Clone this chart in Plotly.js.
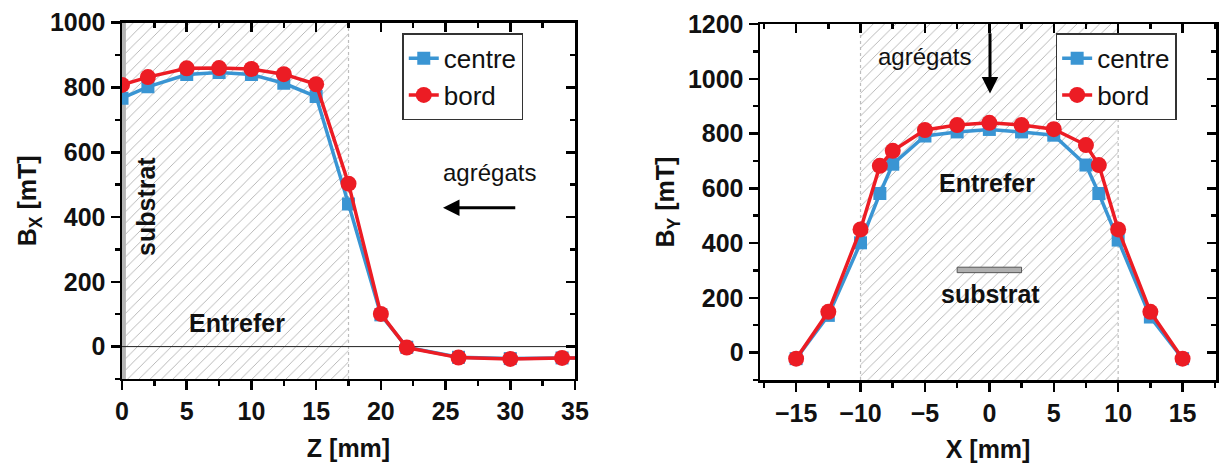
<!DOCTYPE html>
<html>
<head>
<meta charset="utf-8">
<script src="https://cdn.plot.ly/plotly-3.0.1.min.js"></script>
<style>html,body{margin:0;padding:0;background:#fff;}#chart{width:1219px;height:468px;}</style>
</head>
<body>
<div id="chart"></div>
<script>
// ---- data: left panel (Bx vs Z) ----
const zPos     = [0, 2, 5, 7.5, 10, 12.5, 15, 17.5, 20, 22, 26, 30, 34, 36];
const bxCentre = [767, 802, 840, 846, 840, 813, 772, 440, 98, -2, -33, -37, -35, -35];
const bxBord   = [808, 832, 859, 860, 857, 841, 810, 503, 101, -3, -34, -38, -35, -35];
// ---- data: right panel (By vs X) ----
const xPos     = [-15, -12.5, -10, -8.5, -7.5, -5, -2.5, 0, 2.5, 5, 7.5, 8.5, 10, 12.5, 15];
const byCentre = [-22, 136, 401, 581, 688, 791, 806, 815, 806, 794, 685, 581, 411, 130, -22];
const byBord   = [-22, 149, 450, 682, 737, 813, 831, 839, 831, 816, 758, 685, 450, 149, -22];
// regions
const gapZ = [0, 17.5];        // entrefer along Z
const substrZ = [0, 0.3];      // substrate strip along Z
const gapX = [-10, 10];        // entrefer along X
const substrX = [-2.5, 2.5];   // substrate along X
const substrXlevel = [292, 312];
const seriesNames = ['centre', 'bord'];

const BLUE = '#3a95d3', RED = '#ec1c24';
const FONT = 'Liberation Sans, Arial, sans-serif';
const rangeZ = [0, 35], rangeBx = [-100, 1000];
const rangeX = [-17.8, 17.6], rangeBy = [-100, 1200];

function box(xr, yr) {
  return {x: [xr[0], xr[1], xr[1], xr[0], xr[0]], y: [yr[0], yr[0], yr[1], yr[1], yr[0]]};
}
function hatch(xr, yr, xa, ya) {
  return Object.assign(box(xr, yr), {
    xaxis: xa, yaxis: ya, mode: 'lines', fill: 'toself', line: {width: 0},
    fillcolor: 'white',
    fillpattern: {shape: '/', fgcolor: '#a8a8a8', bgcolor: 'white', size: 8, solidity: 0.1},
    hoverinfo: 'skip', showlegend: false});
}
function solidBox(xr, yr, xa, ya, col) {
  return Object.assign(box(xr, yr), {
    xaxis: xa, yaxis: ya, mode: 'lines', fill: 'toself', line: {width: 0},
    fillcolor: col, hoverinfo: 'skip', showlegend: false});
}
function vline(xv, yr, xa, ya) {
  return {x: [xv, xv], y: yr, xaxis: xa, yaxis: ya, mode: 'lines',
    line: {color: '#bdbdbd', width: 1.2, dash: 'dot'}, hoverinfo: 'skip', showlegend: false};
}
function series(x, y, name, xa, ya, lg, isCentre) {
  return {x: x, y: y, name: name, xaxis: xa, yaxis: ya, legend: lg, mode: 'lines+markers',
    line: {color: isCentre ? BLUE : RED, width: 3.5},
    marker: {symbol: isCentre ? 'square' : 'circle', size: isCentre ? 13 : 16, color: isCentre ? BLUE : RED},
    legendgroup: lg + name};
}

const data = [
  hatch(gapZ, rangeBx, 'x', 'y'),
  solidBox(substrZ, rangeBx, 'x', 'y', '#b4b4b4'),
  vline(gapZ[1], rangeBx, 'x', 'y'),
  {x: rangeZ, y: [0, 0], xaxis: 'x', yaxis: 'y', mode: 'lines', line: {color: '#222', width: 1},
    hoverinfo: 'skip', showlegend: false},
  hatch(gapX, rangeBy, 'x2', 'y2'),
  vline(gapX[0], rangeBy, 'x2', 'y2'),
  vline(gapX[1], rangeBy, 'x2', 'y2'),
  series(zPos, bxCentre, seriesNames[0], 'x', 'y', 'legend', true),
  series(zPos, bxBord, seriesNames[1], 'x', 'y', 'legend', false),
  series(xPos, byCentre, seriesNames[0], 'x2', 'y2', 'legend2', true),
  series(xPos, byBord, seriesNames[1], 'x2', 'y2', 'legend2', false),
  // helper (empty) traces so the mirrored inner-tick axes are drawn
  {x: [null], y: [null], xaxis: 'x3', yaxis: 'y3', showlegend: false, hoverinfo: 'skip'},
  {x: [null], y: [null], xaxis: 'x4', yaxis: 'y4', showlegend: false, hoverinfo: 'skip'}
];

const tickFont = {family: FONT, size: 25, color: '#111', weight: 'bold'};
const titleFont = {family: FONT, size: 25, color: '#111', weight: 'bold'};

function mainX(dom, range, anchor, title) {
  return {domain: dom, range: range, anchor: anchor, dtick: 5, tick0: 0,
    ticks: 'outside', ticklen: 9, tickwidth: 2.5, tickcolor: '#000',
    minor: {dtick: 2.5, ticks: 'outside', ticklen: 5, tickwidth: 2.5, tickcolor: '#000'},
    showline: true, linewidth: 2.5, linecolor: '#000', mirror: true,
    showgrid: false, zeroline: false, tickfont: tickFont,
    title: {text: title, font: titleFont, standoff: 15}};
}
function mainY(dom, range, anchor, title) {
  return {domain: dom, range: range, anchor: anchor, dtick: 200, tick0: 0,
    ticks: 'outside', ticklen: 9, tickwidth: 2.5, tickcolor: '#000',
    minor: {dtick: 100, ticks: 'outside', ticklen: 5, tickwidth: 2.5, tickcolor: '#000'},
    showline: true, linewidth: 2.5, linecolor: '#000', mirror: true,
    showgrid: false, zeroline: false,
    tickfont: tickFont, title: {text: title, font: titleFont, standoff: 6}};
}
function mirX(dom, range, anchor, over) {
  return {domain: dom, range: range, anchor: anchor, side: 'top', overlaying: over,
    dtick: 5, tick0: 0, ticks: 'inside', ticklen: 9, tickwidth: 2.5, tickcolor: '#000',
    minor: {dtick: 2.5, ticks: 'inside', ticklen: 5, tickwidth: 2.5, tickcolor: '#000'},
    showticklabels: false, showline: false, showgrid: false, zeroline: false};
}
function mirY(dom, range, anchor, over) {
  return {domain: dom, range: range, anchor: anchor, side: 'right', overlaying: over,
    dtick: 200, tick0: 0, ticks: 'inside', ticklen: 9, tickwidth: 2.5, tickcolor: '#000',
    minor: {dtick: 100, ticks: 'inside', ticklen: 5, tickwidth: 2.5, tickcolor: '#000'},
    showticklabels: false, showline: false, showgrid: false, zeroline: false};
}

const dxL = [0.1001, 0.4717], dyL = [0.1902, 0.9515];
const dxR = [0.6235, 0.9976], dyR = [0.1880, 0.9487];

const legendBase = {bgcolor: 'white', bordercolor: '#333', borderwidth: 1.5,
  font: {family: FONT, size: 26, color: '#111'}, xanchor: 'left', yanchor: 'top',
  tracegroupgap: 0, traceorder: 'normal'};

const annFont = {family: FONT, size: 25, color: '#111', weight: 'bold'};
const regFont = {family: FONT, size: 24, color: '#111'};

const layout = {
  width: 1219, height: 468, margin: {l: 0, r: 0, t: 0, b: 0},
  paper_bgcolor: 'white', plot_bgcolor: 'white', showlegend: true,
  xaxis: mainX(dxL, rangeZ, 'y', 'Z [mm]'),
  yaxis: mainY(dyL, rangeBx, 'x', 'B<sub>X</sub> [mT]'),
  xaxis2: mainX(dxR, rangeX, 'y2', 'X [mm]'),
  yaxis2: mainY(dyR, rangeBy, 'x2', 'B<sub>Y</sub> [mT]'),
  xaxis3: mirX(dxL, rangeZ, 'y3', 'x'),
  yaxis3: mirY(dyL, rangeBx, 'x3', 'y'),
  xaxis4: mirX(dxR, rangeX, 'y4', 'x2'),
  yaxis4: mirY(dyR, rangeBy, 'x4', 'y2'),
  legend: Object.assign({}, legendBase, {x: 0.330, y: 0.929}),
  legend2: Object.assign({}, legendBase, {x: 0.866, y: 0.929}),
  shapes: [
    {type: 'rect', xref: 'x2', yref: 'y2', x0: substrX[0], x1: substrX[1], y0: substrXlevel[0], y1: substrXlevel[1],
      fillcolor: '#b0b0b0', line: {color: '#555', width: 1}}
  ],
  annotations: [
    {xref: 'x', yref: 'y', x: 1.9, y: 433, text: 'substrat', textangle: -90, showarrow: false, font: annFont},
    {xref: 'x', yref: 'y', x: 8.9, y: 74, text: 'Entrefer', showarrow: false, font: annFont},
    {xref: 'x', yref: 'y', x: 28.4, y: 539, text: 'agrégats', showarrow: false, font: regFont},
    {xref: 'x', yref: 'y', x: 24.8, y: 429, ax: 30.5, ay: 429, axref: 'x', ayref: 'y', text: '',
      showarrow: true, arrowhead: 2, arrowsize: 1.1, arrowwidth: 3, arrowcolor: '#000'},
    {xref: 'x2', yref: 'y2', x: -5.0, y: 1080, text: 'agrégats', showarrow: false, font: regFont},
    {xref: 'x2', yref: 'y2', x: 0.05, y: 946, ax: 0.05, ay: 1172, axref: 'x2', ayref: 'y2', text: '',
      showarrow: true, arrowhead: 2, arrowsize: 1.1, arrowwidth: 3, arrowcolor: '#000'},
    {xref: 'x2', yref: 'y2', x: -0.2, y: 619, text: 'Entrefer', showarrow: false, font: annFont},
    {xref: 'x2', yref: 'y2', x: 0.1, y: 215, text: 'substrat', showarrow: false, font: annFont}
  ]
};

Plotly.newPlot('chart', data, layout, {staticPlot: true, displayModeBar: false});
</script>
</body>
</html>
